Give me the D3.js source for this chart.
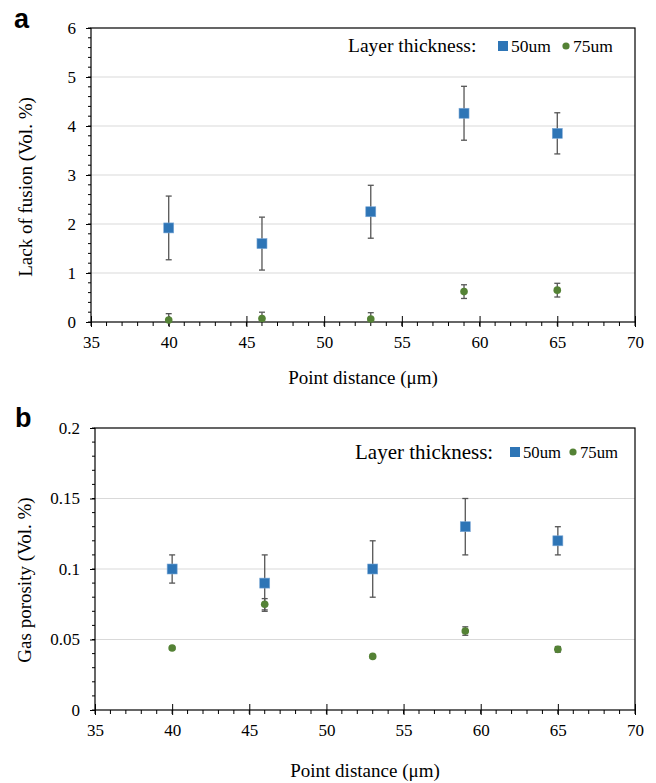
<!DOCTYPE html>
<html>
<head>
<meta charset="utf-8">
<script src="https://cdn.jsdelivr.net/npm/d3@7"></script>
<style>
  html, body { margin: 0; padding: 0; background: #fff; }
  svg { display: block; }
</style>
</head>
<body>
<svg id="chart" width="656" height="783"></svg>
<script>
// ---------- data ----------
const pointDistance = [40, 46, 53, 59, 65];
const seriesNames = ["50um", "75um"];

// Panel a: Lack of fusion (Vol. %)
const lofMean50 = [1.92, 1.60, 2.25, 4.26, 3.85];
const lofErr50  = [0.65, 0.54, 0.54, 0.55, 0.42];
const lofMean75 = [0.04, 0.07, 0.06, 0.62, 0.65];
const lofErr75  = [0.13, 0.13, 0.13, 0.14, 0.14];

// Panel b: Gas porosity (Vol. %)
const gasMean50 = [0.100, 0.090, 0.100, 0.130, 0.120];
const gasErr50  = [0.010, 0.020, 0.020, 0.020, 0.010];
const gasMean75 = [0.044, 0.075, 0.038, 0.056, 0.043];
const gasErr75  = [0.001, 0.004, 0.001, 0.003, 0.002];

const xTicks = [35, 40, 45, 50, 55, 60, 65, 70];
const lofTicks = [0, 1, 2, 3, 4, 5, 6];
const gasTicks = [0, 0.05, 0.1, 0.15, 0.2];

// ---------- style ----------
const SERIF = '"Liberation Serif", "Times New Roman", serif';
const SANS = '"Liberation Sans", Arial, sans-serif';
const BLUE = "#2E75B6";
const GREEN = "#548235";
const ERR = "#555555";
const GRID = "#d9d9d9";

const svg = d3.select("#chart");

function drawPanel(p) {
  const g = svg.append("g").style("font-family", SERIF);
  const x = d3.scaleLinear().domain([35, 70]).range([p.left, p.right]);
  const y = d3.scaleLinear().domain(p.yDomain).range([p.bottom, p.top]);

  // gridlines
  g.append("g").selectAll("line")
    .data(p.yTicks.filter(t => t > p.yDomain[0] && t < p.yDomain[1]))
    .join("line")
    .attr("x1", p.left).attr("x2", p.right)
    .attr("y1", d => y(d)).attr("y2", d => y(d))
    .attr("stroke", GRID).attr("stroke-width", 1.2);

  // border
  g.append("rect")
    .attr("x", p.left).attr("y", p.top)
    .attr("width", p.right - p.left).attr("height", p.bottom - p.top)
    .attr("fill", "none").attr("stroke", "#000").attr("stroke-width", 1.2);

  // minor ticks
  const step = p.yMinor;
  const nMinor = Math.round((p.yDomain[1] - p.yDomain[0]) / step);
  const yMinor = d3.range(nMinor + 1).map(i => p.yDomain[0] + i * step);
  g.append("g").selectAll("line").data(yMinor).join("line")
    .attr("x1", p.left - 3).attr("x2", p.left)
    .attr("y1", d => y(d)).attr("y2", d => y(d))
    .attr("stroke", "#000").attr("stroke-width", 1);
  const xMinor = d3.range(35, 71, 1);
  g.append("g").selectAll("line").data(xMinor).join("line")
    .attr("x1", d => x(d)).attr("x2", d => x(d))
    .attr("y1", p.bottom).attr("y2", p.bottom + 4)
    .attr("stroke", "#000").attr("stroke-width", 1);

  // y axis
  const yAxis = g.append("g")
    .attr("transform", `translate(${p.left},0)`)
    .call(d3.axisLeft(y).tickValues(p.yTicks).tickFormat(p.fmt).tickSize(5).tickPadding(10));
  yAxis.attr("font-family", null).attr("font-size", null);
  yAxis.select(".domain").remove();
  yAxis.selectAll("line").attr("stroke", "#000");
  yAxis.selectAll("text").style("font-family", SERIF).style("font-size", "17px").attr("fill", "#000");

  // x axis
  const xAxis = g.append("g")
    .attr("transform", `translate(0,${p.bottom})`)
    .call(d3.axisBottom(x).tickValues(xTicks).tickFormat(d3.format("d")).tickSize(5).tickPadding(9));
  xAxis.attr("font-family", null).attr("font-size", null);
  xAxis.select(".domain").remove();
  xAxis.selectAll("line").attr("y1", -6).attr("y2", 5).attr("stroke", "#000");
  xAxis.selectAll("text").style("font-family", SERIF).style("font-size", "17px").attr("fill", "#000");

  // titles
  g.append("text")
    .attr("x", p.xTitleX).attr("y", p.xTitleY)
    .attr("text-anchor", "middle").style("font-size", "19px")
    .text("Point distance (μm)");
  g.append("text")
    .attr("transform", `translate(${p.yTitleX},${p.yTitleY}) rotate(-90)`)
    .attr("text-anchor", "middle").style("font-size", "19px")
    .text(p.yTitle);

  // panel label
  g.append("text")
    .attr("x", p.labelX).attr("y", p.labelY)
    .style("font-family", SANS)
    .style("font-weight", "bold").style("font-size", "27px")
    .text(p.label);

  // series
  const series = [
    { name: seriesNames[0], mean: p.mean50, err: p.err50, color: BLUE, shape: "square" },
    { name: seriesNames[1], mean: p.mean75, err: p.err75, color: GREEN, shape: "circle" }
  ];
  series.forEach(s => {
    const pts = pointDistance.map((d, i) => ({ x: d, m: s.mean[i], e: s.err[i] }));
    const eg = g.append("g").attr("stroke", ERR).attr("stroke-width", 1.3);
    pts.forEach(d => {
      const lo = Math.max(p.yDomain[0], d.m - d.e), hi = d.m + d.e;
      eg.append("line").attr("x1", x(d.x)).attr("x2", x(d.x)).attr("y1", y(lo)).attr("y2", y(hi));
      eg.append("line").attr("x1", x(d.x) - 3).attr("x2", x(d.x) + 3).attr("y1", y(hi)).attr("y2", y(hi));
      if (d.m - d.e > p.yDomain[0])
        eg.append("line").attr("x1", x(d.x) - 3).attr("x2", x(d.x) + 3).attr("y1", y(lo)).attr("y2", y(lo));
    });
  });
  series.forEach(s => {
    const pts = pointDistance.map((d, i) => ({ x: d, m: s.mean[i] }));
    if (s.shape === "square") {
      g.append("g").selectAll("rect").data(pts).join("rect")
        .attr("x", d => x(d.x) - 5).attr("y", d => y(d.m) - 5)
        .attr("width", 10).attr("height", 10)
        .attr("fill", s.color).attr("stroke", "#7aa7d6").attr("stroke-width", 0.6);
    } else {
      g.append("g").selectAll("circle").data(pts).join("circle")
        .attr("cx", d => x(d.x)).attr("cy", d => y(d.m)).attr("r", 3.8)
        .attr("fill", s.color);
    }
  });

  // legend
  const L = p.legend;
  g.append("text").attr("x", L.textX).attr("y", L.y + L.big * 0.33)
    .style("font-size", L.big + "px").text("Layer thickness:");
  g.append("rect").attr("x", L.sqX).attr("y", L.y - 5).attr("width", 10).attr("height", 10)
    .attr("fill", BLUE);
  g.append("text").attr("x", L.sqX + 13).attr("y", L.y + L.small * 0.33)
    .style("font-size", L.small + "px").text(seriesNames[0]);
  g.append("circle").attr("cx", L.ciX).attr("cy", L.y).attr("r", 3.6).attr("fill", GREEN);
  g.append("text").attr("x", L.ciX + 7).attr("y", L.y + L.small * 0.33)
    .style("font-size", L.small + "px").text(seriesNames[1]);
}

drawPanel({
  left: 91, right: 635, top: 28, bottom: 322,
  yDomain: [0, 6], yTicks: lofTicks, yMinor: 0.2,
  fmt: d3.format("d"),
  mean50: lofMean50, err50: lofErr50, mean75: lofMean75, err75: lofErr75,
  yTitle: "Lack of fusion (Vol. %)", yTitleX: 32, yTitleY: 187,
  xTitleX: 363, xTitleY: 384,
  label: "a", labelX: 14, labelY: 28,
  legend: { textX: 348, y: 46, big: 19.5, small: 17.5, sqX: 498, ciX: 566 }
});

drawPanel({
  left: 95, right: 635, top: 428, bottom: 710,
  yDomain: [0, 0.2], yTicks: gasTicks, yMinor: 0.01,
  fmt: d => String(+d.toFixed(2)),
  mean50: gasMean50, err50: gasErr50, mean75: gasMean75, err75: gasErr75,
  yTitle: "Gas porosity (Vol. %)", yTitleX: 31, yTitleY: 580,
  xTitleX: 365, xTitleY: 777,
  label: "b", labelX: 15, labelY: 427,
  legend: { textX: 355, y: 452, big: 21, small: 16.7, sqX: 510, ciX: 573 }
});
</script>
</body>
</html>
